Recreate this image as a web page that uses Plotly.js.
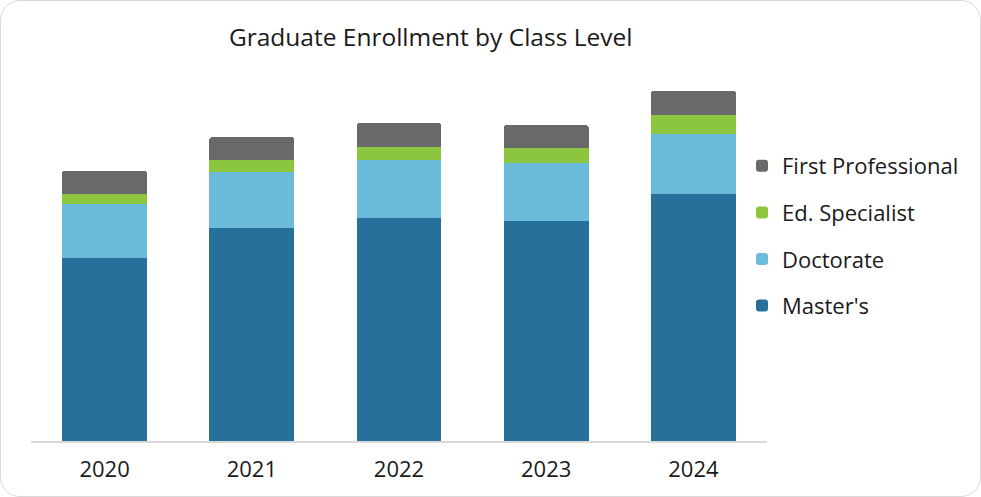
<!DOCTYPE html>
<html>
<head>
<meta charset="utf-8">
<script src="https://cdn.plot.ly/plotly-3.0.1.min.js"></script>
<style>
  html, body { margin: 0; padding: 0; background: #ffffff; }
  #wrap { position: relative; width: 981px; height: 497px; }
  #chart { width: 981px; height: 497px; }
  #frame { position: absolute; left: 0; top: 0; width: 979px; height: 495px;
           border: 1px solid #d9d9d9; border-radius: 20px; pointer-events: none; }
</style>
</head>
<body>
<div id="wrap">
  <div id="chart"></div>
  <div id="frame"></div>
</div>
<script>
const years = ["2020", "2021", "2022", "2023", "2024"];
const masters = [1827, 2133, 2230, 2200, 2467];
const doctorate = [543, 554, 580, 583, 600];
const edSpecialist = [105, 123, 127, 144, 193];
const firstProfessional = [228, 227, 240, 233, 240];

const seriesNames = ["Master's", "Doctorate", "Ed. Specialist", "First Professional"];
const seriesValues = [masters, doctorate, edSpecialist, firstProfessional];
const seriesColors = ["#27709b", "#6bbbdb", "#8cc63f", "#696969"];
const legendRanks = [4, 3, 2, 1];

const FONT = "'Open Sans', Lato, sans-serif";

const traces = seriesNames.map((name, i) => ({
  type: "bar",
  name: name,
  x: years,
  y: seriesValues[i],
  legendgroup: "g" + i,
  legendrank: legendRanks[i],
  marker: { color: seriesColors[i], line: { width: 0 }, cornerradius: 3 },
  hoverinfo: "x+y+name"
}));

const layout = {
  width: 981,
  height: 497,
  barmode: "stack",
  bargap: 0.423,
  paper_bgcolor: "rgba(0,0,0,0)",
  plot_bgcolor: "rgba(0,0,0,0)",
  margin: { l: 31, r: 214, t: 61, b: 56, autoexpand: false },
  title: {
    text: "Graduate Enrollment by Class Level",
    font: { family: FONT, size: 24.5, color: "#1a1a1a" },
    x: 0.439, xref: "container", xanchor: "center",
    y: 0.9256, yref: "container", yanchor: "middle"
  },
  xaxis: {
    type: "category",
    showline: true, linecolor: "#d9d9d9", linewidth: 2,
    ticks: "", showgrid: false, zeroline: false,
    ticklabelstandoff: 8,
    tickfont: { family: FONT, size: 22, color: "#1a1a1a" },
    range: [-0.5, 4.5]
  },
  yaxis: {
    range: [0, 3800],
    visible: false, showgrid: false, zeroline: false
  },
  showlegend: true,
  legend: {
    xref: "container", yref: "container",
    x: 742 / 981, xanchor: "left",
    y: 1 - 145 / 497, yanchor: "top",
    traceorder: "grouped",
    tracegroupgap: 15,
    font: { family: FONT, size: 22, color: "#1a1a1a" },
    bgcolor: "rgba(0,0,0,0)",
    itemwidth: 30
  }
};

Plotly.newPlot("chart", traces, layout, { displayModeBar: false, responsive: false });
</script>
</body>
</html>
